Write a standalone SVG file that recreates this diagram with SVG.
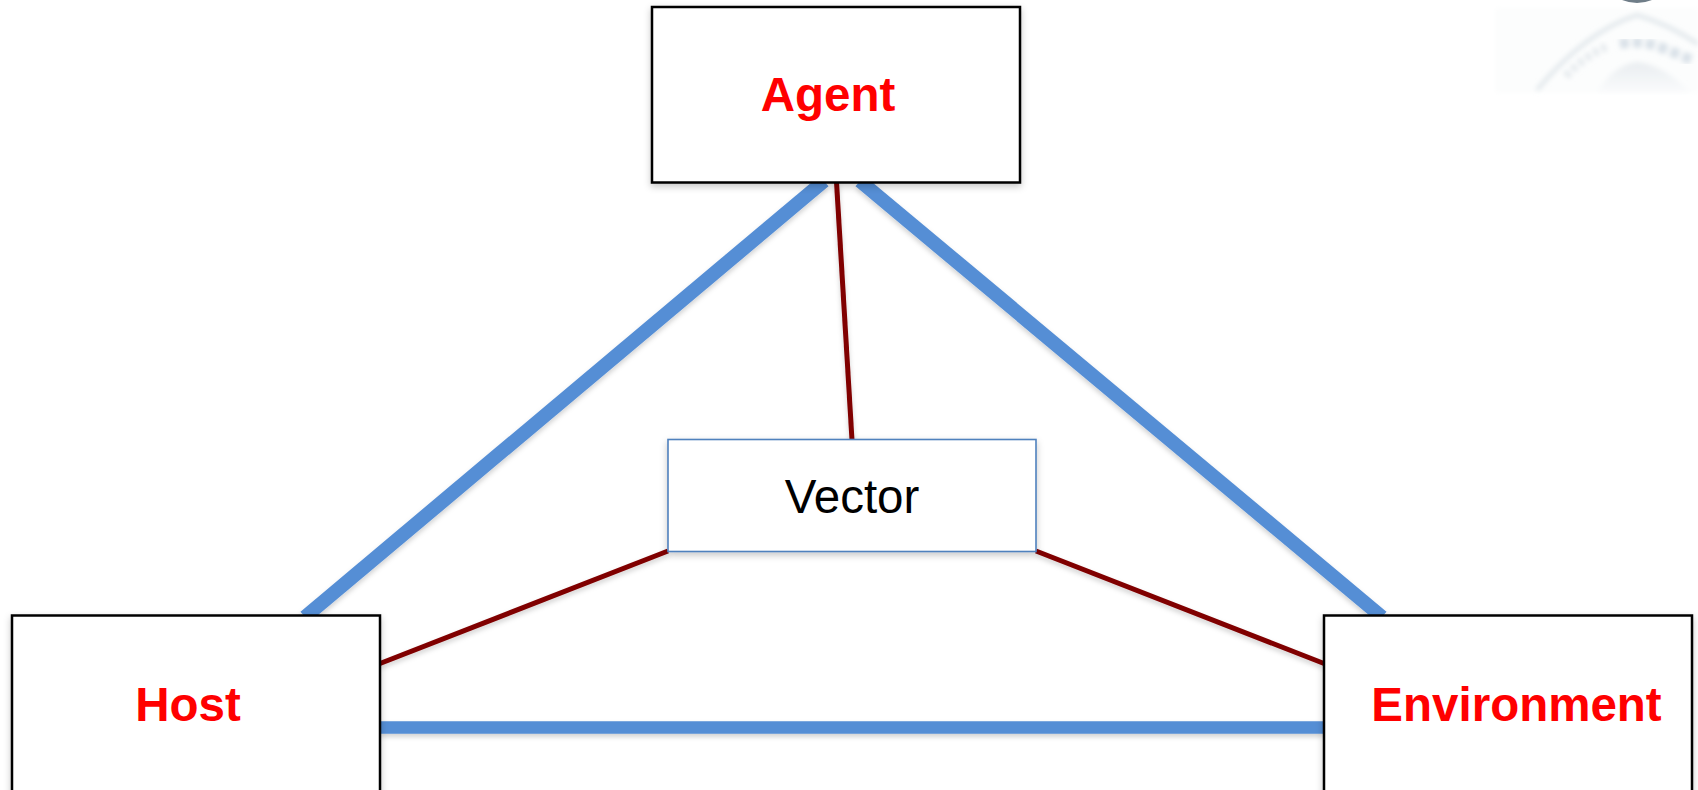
<svg xmlns="http://www.w3.org/2000/svg" width="1698" height="790" viewBox="0 0 1698 790">
  <style>
    .box { fill: #ffffff; stroke: #000000; stroke-width: 2.5; filter: url(#shadow); }
    .vec { fill: #ffffff; stroke: #4f81bd; stroke-width: 1.6; filter: url(#shadow); }
    .blue { stroke: #558ed5; stroke-width: 12.5; fill: none; filter: url(#lineshadow); }
    .diag { stroke-width: 14; }
    .red { stroke: #800000; stroke-width: 5; fill: none; filter: url(#lineshadow); }
    .lbl { font-family: "Liberation Sans", Arial, sans-serif; font-size: 47.5px; text-anchor: middle; }
    .bold { font-weight: bold; fill: #ff0000; }
    .plain { fill: #000000; }
  </style>
  <defs>
    <filter id="shadow" x="-10%" y="-10%" width="120%" height="125%">
      <feDropShadow dx="0" dy="3" stdDeviation="3.5" flood-color="#000000" flood-opacity="0.22"/>
    </filter>
    <filter id="lineshadow" filterUnits="userSpaceOnUse" x="0" y="0" width="1698" height="790">
      <feDropShadow dx="0" dy="3" stdDeviation="2.5" flood-color="#000000" flood-opacity="0.18"/>
    </filter>
    <filter id="blur" x="-20%" y="-20%" width="140%" height="140%">
      <feGaussianBlur stdDeviation="2.5"/>
    </filter>
    <linearGradient id="mound" x1="0" y1="0" x2="0" y2="1">
      <stop offset="0" stop-color="#e9edf0"/>
      <stop offset="1" stop-color="#fafbfc"/>
    </linearGradient>
  </defs>
  <rect width="1698" height="790" fill="#ffffff"/>
  <g id="watermark">
    <rect x="1495" y="8" width="203" height="85" fill="#fcfdfd" filter="url(#blur)"/>
    <path d="M1597 92 Q1615 64 1637 62 Q1662 64 1690 92 Z" fill="url(#mound)" filter="url(#blur)"/>
    <path d="M1537 90 Q1585 32 1637 15 Q1668 24 1698 44" fill="none" stroke="#e1e7eb" stroke-width="4" filter="url(#blur)"/>
    <path d="M1566 76 Q1585 56 1606 47" fill="none" stroke="#e3e8ec" stroke-width="8" stroke-dasharray="5 4" filter="url(#blur)"/>
    <path d="M1620 44 Q1640 40 1660 47 L1692 60" fill="none" stroke="#d9e1e8" stroke-width="10" stroke-dasharray="9 4" filter="url(#blur)"/>
    <path d="M1622 0 Q1637 6 1652 0 Z" fill="#6f7d88"/>
  </g>
  <g id="connectors">
    <line class="blue diag" x1="305" y1="617" x2="824" y2="181"/>
    <line class="blue diag" x1="860" y1="181" x2="1382" y2="617"/>
    <line class="blue" x1="380" y1="727.500" x2="1324" y2="727.500"/>
    <line class="red" x1="836.500" y1="182" x2="852" y2="440"/>
    <line class="red" x1="668" y1="551" x2="380" y2="663.500"/>
    <line class="red" x1="1036" y1="551" x2="1324" y2="663.500"/>
  </g>
  <g id="agent">
    <rect class="box" x="652" y="7" width="368" height="175.500"/>
    <text class="lbl bold" x="828" y="111">Agent</text>
  </g>
  <g id="vector">
    <rect class="vec" x="668" y="439.500" width="368" height="112"/>
    <text class="lbl plain" x="852" y="512.500">Vector</text>
  </g>
  <g id="host">
    <rect class="box" x="12" y="615.500" width="368" height="190"/>
    <text class="lbl bold" x="188" y="720.500">Host</text>
  </g>
  <g id="environment">
    <rect class="box" x="1324" y="615.500" width="368" height="190"/>
    <text class="lbl bold" x="1516.500" y="720.500">Environment</text>
  </g>
</svg>
